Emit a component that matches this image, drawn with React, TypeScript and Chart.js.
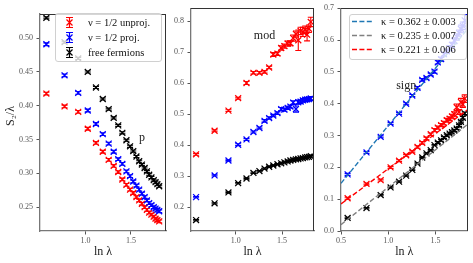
import React, { useEffect, useRef } from 'react';
import { Chart, registerables } from 'chart.js';

Chart.register(...registerables);

const W = 473;
const H = 263;
const FONT = "'Liberation Serif', 'DejaVu Serif', serif";

// ---------- data ----------
const lnLambda = [0.57, 0.77, 0.92, 1.025, 1.115, 1.19, 1.255, 1.31, 1.36, 1.405, 1.45, 1.49, 1.525, 1.56, 1.59, 1.62, 1.65, 1.675, 1.70, 1.725, 1.75, 1.77, 1.79, 1.81];

const seriesLabels = ['ν = 1/2 unproj.', 'ν = 1/2 proj.', 'free fermions'];
const seriesColors = ['#ff0000', '#0000ff', '#000000'];

// panel "p"
const pUnproj = [0.418, 0.399, 0.391, 0.366, 0.345, 0.332, 0.320, 0.311, 0.302, 0.291, 0.283, 0.276, 0.271, 0.265, 0.260, 0.255, 0.250, 0.246, 0.242, 0.239, 0.236, 0.233, 0.231, 0.229];
const pUnprojErr = [0.002, 0.002, 0.002, 0.002, 0.002, 0.002, 0.002, 0.002, 0.002, 0.002, 0.002, 0.002, 0.002, 0.002, 0.002, 0.002, 0.002, 0.002, 0.002, 0.002, 0.002, 0.002, 0.002, 0.002];
const pProj = [0.491, 0.445, 0.419, 0.393, 0.373, 0.358, 0.344, 0.332, 0.321, 0.314, 0.303, 0.296, 0.288, 0.282, 0.276, 0.270, 0.265, 0.260, 0.256, 0.253, 0.250, 0.248, 0.246, 0.244];
const pProjErr = [0.002, 0.002, 0.002, 0.002, 0.002, 0.002, 0.002, 0.002, 0.002, 0.002, 0.002, 0.002, 0.002, 0.002, 0.002, 0.002, 0.002, 0.002, 0.002, 0.002, 0.002, 0.002, 0.002, 0.002];
const pFree = [0.530, 0.494, 0.470, 0.450, 0.427, 0.410, 0.395, 0.382, 0.371, 0.360, 0.349, 0.340, 0.333, 0.325, 0.318, 0.313, 0.308, 0.303, 0.298, 0.294, 0.290, 0.287, 0.284, 0.281];
const pFreeErr = [0.0015, 0.0015, 0.0015, 0.0015, 0.0015, 0.0015, 0.0015, 0.0015, 0.0015, 0.0015, 0.0015, 0.0015, 0.0015, 0.0015, 0.0015, 0.0015, 0.0015, 0.0015, 0.0015, 0.0015, 0.0015, 0.0015, 0.0015, 0.0015];

// panel "mod"
const modUnproj = [0.370, 0.446, 0.511, 0.551, 0.600, 0.633, 0.633, 0.636, 0.650, 0.692, 0.695, 0.713, 0.719, 0.727, 0.728, 0.745, 0.758, 0.738, 0.768, 0.765, 0.772, 0.756, 0.775, 0.797];
const modUnprojErr = [0.003, 0.003, 0.003, 0.003, 0.005, 0.004, 0.004, 0.004, 0.004, 0.006, 0.006, 0.007, 0.007, 0.008, 0.008, 0.010, 0.010, 0.033, 0.012, 0.015, 0.012, 0.020, 0.012, 0.015];
const modProj = [0.232, 0.302, 0.350, 0.401, 0.418, 0.442, 0.455, 0.478, 0.487, 0.495, 0.503, 0.516, 0.514, 0.520, 0.524, 0.537, 0.516, 0.538, 0.540, 0.544, 0.546, 0.547, 0.548, 0.550];
const modProjErr = [0.002, 0.002, 0.002, 0.003, 0.003, 0.003, 0.003, 0.004, 0.004, 0.004, 0.004, 0.005, 0.005, 0.005, 0.005, 0.006, 0.010, 0.006, 0.006, 0.006, 0.006, 0.006, 0.006, 0.006];
const modFree = [0.158, 0.212, 0.247, 0.277, 0.292, 0.310, 0.316, 0.324, 0.330, 0.334, 0.338, 0.341, 0.344, 0.347, 0.350, 0.352, 0.354, 0.355, 0.357, 0.358, 0.360, 0.361, 0.362, 0.364];
const modFreeErr = [0.002, 0.002, 0.002, 0.002, 0.002, 0.002, 0.002, 0.002, 0.002, 0.002, 0.002, 0.002, 0.002, 0.002, 0.002, 0.002, 0.002, 0.002, 0.002, 0.002, 0.002, 0.002, 0.002, 0.002];

// panel "sign"
const signUnproj = [0.103, 0.148, 0.160, 0.200, 0.221, 0.238, 0.249, 0.264, 0.277, 0.291, 0.304, 0.317, 0.325, 0.333, 0.339, 0.348, 0.353, 0.360, 0.367, 0.389, 0.374, 0.405, 0.398, 0.416];
const signUnprojErr = [0.003, 0.003, 0.003, 0.003, 0.003, 0.003, 0.003, 0.004, 0.004, 0.004, 0.004, 0.005, 0.005, 0.005, 0.006, 0.006, 0.006, 0.007, 0.008, 0.010, 0.008, 0.012, 0.010, 0.012];
const signProj = [0.178, 0.247, 0.296, 0.338, 0.369, 0.400, 0.426, 0.450, 0.475, 0.481, 0.492, 0.501, 0.530, 0.540, 0.556, 0.565, 0.575, 0.585, 0.598, 0.610, 0.622, 0.635, 0.645, 0.662];
const signProjErr = [0.003, 0.003, 0.003, 0.003, 0.003, 0.003, 0.003, 0.004, 0.004, 0.004, 0.004, 0.005, 0.005, 0.006, 0.006, 0.007, 0.008, 0.008, 0.009, 0.010, 0.010, 0.012, 0.012, 0.018];
const signFree = [0.041, 0.072, 0.113, 0.137, 0.155, 0.174, 0.192, 0.212, 0.231, 0.244, 0.254, 0.270, 0.278, 0.285, 0.294, 0.301, 0.306, 0.311, 0.316, 0.322, 0.332, 0.343, 0.356, 0.370];
const signFreeErr = [0.002, 0.002, 0.002, 0.002, 0.002, 0.002, 0.002, 0.002, 0.002, 0.002, 0.002, 0.002, 0.003, 0.003, 0.003, 0.003, 0.003, 0.003, 0.003, 0.003, 0.003, 0.003, 0.004, 0.004];

// fitted lines (slope kappa) in panel "sign"
const fitLabels = ['κ = 0.362 ± 0.003', 'κ = 0.235 ± 0.007', 'κ = 0.221 ± 0.006'];
const fitColors = ['#1f77b4', '#808080', '#ff0000'];
const fitX = [0.5, 1.84];
const fitProj = [0.150, 0.635];
const fitFree = [0.020, 0.335];
const fitUnproj = [0.085, 0.381];

// ticks
const xTicksPM = [1.0, 1.5];
const xTicksSign = [0.5, 1.0, 1.5];
const yTicksP = [0.25, 0.30, 0.35, 0.40, 0.45, 0.50];
const yTicksMod = [0.2, 0.3, 0.4, 0.5, 0.6, 0.7, 0.8];
const yTicksSign = [0.0, 0.1, 0.2, 0.3, 0.4, 0.5, 0.6, 0.7];

const xTitle = 'ln λ';
const yTitle = 'S₂/λ';

const DASH = [5, 2.4];

// ---------- helpers ----------
const pts = (ys: number[]) => ys.map((y, i) => ({ x: lnLambda[i], y }));

const pointSet = (k: number, ys: number[], errs: number[]) => ({
  label: seriesLabels[k],
  data: pts(ys),
  errors: errs,
  errColor: seriesColors[k],
  borderColor: seriesColors[k],
  backgroundColor: seriesColors[k],
  pointStyle: 'crossRot',
  pointRadius: 4.2,
  borderWidth: 1.25,
  showLine: false,
  order: -k,
});

const fitSet = (k: number, ys: number[]) => ({
  label: fitLabels[k],
  data: fitX.map((x, i) => ({ x, y: ys[i] })),
  borderColor: fitColors[k],
  backgroundColor: fitColors[k],
  borderWidth: 1.4,
  borderDash: DASH,
  pointRadius: 0,
  showLine: true,
  order: -10 - k,
});

const errorBarPlugin = {
  id: 'errorBars',
  beforeDatasetsDraw(chart: any) {
    const ctx = chart.ctx;
    const ys = chart.scales.y;
    const cap = 3;
    chart.data.datasets.forEach((ds: any, i: number) => {
      if (!ds.errors) return;
      const meta = chart.getDatasetMeta(i);
      ctx.save();
      ctx.strokeStyle = ds.errColor;
      ctx.lineWidth = 1.1;
      meta.data.forEach((el: any, j: number) => {
        const v = ds.data[j].y;
        const e = ds.errors[j];
        const t = ys.getPixelForValue(v + e);
        const b = ys.getPixelForValue(v - e);
        const x = el.x;
        ctx.beginPath();
        ctx.moveTo(x, t); ctx.lineTo(x, b);
        ctx.moveTo(x - cap, t); ctx.lineTo(x + cap, t);
        ctx.moveTo(x - cap, b); ctx.lineTo(x + cap, b);
        ctx.stroke();
      });
      ctx.restore();
    });
  },
};

const framePlugin = {
  id: 'frame',
  afterDraw(chart: any) {
    const { left, right, top, bottom } = chart.chartArea;
    const ctx = chart.ctx;
    ctx.save();
    ctx.strokeStyle = '#333333';
    ctx.lineWidth = 1;
    ctx.beginPath();
    ctx.moveTo(left, Math.round(top) + 0.5);
    ctx.lineTo(right, Math.round(top) + 0.5);
    ctx.moveTo(Math.round(right) - 0.5, top);
    ctx.lineTo(Math.round(right) - 0.5, bottom);
    ctx.stroke();
    ctx.restore();
  },
};

function makeTextPlugin(note: { text: string; x: number; y: number }, ytitle?: { text: string; px: number; py: number }) {
  return {
    id: 'texts',
    afterDatasetsDraw(chart: any) {
      const ctx = chart.ctx;
      const x = chart.scales.x.getPixelForValue(note.x);
      const y = chart.scales.y.getPixelForValue(note.y);
      ctx.save();
      ctx.font = `12px ${FONT}`;
      ctx.fillStyle = '#222222';
      ctx.textAlign = 'center';
      ctx.textBaseline = 'middle';
      ctx.fillText(note.text, x, y);
      if (ytitle) {
        ctx.translate(ytitle.px, ytitle.py);
        ctx.rotate(-Math.PI / 2);
        ctx.fillText(ytitle.text, 0, 0);
      }
      ctx.restore();
    },
  };
}

function makeLegendPlugin(spec: any) {
  return {
    id: 'boxLegend',
    afterDraw(chart: any) {
      if (!spec) return;
      const ctx = chart.ctx;
      const box = spec.box;
      ctx.save();
      const r = 2.5;
      ctx.beginPath();
      ctx.moveTo(box.x + r, box.y);
      ctx.lineTo(box.x + box.w - r, box.y);
      ctx.arcTo(box.x + box.w, box.y, box.x + box.w, box.y + r, r);
      ctx.lineTo(box.x + box.w, box.y + box.h - r);
      ctx.arcTo(box.x + box.w, box.y + box.h, box.x + box.w - r, box.y + box.h, r);
      ctx.lineTo(box.x + r, box.y + box.h);
      ctx.arcTo(box.x, box.y + box.h, box.x, box.y + box.h - r, r);
      ctx.lineTo(box.x, box.y + r);
      ctx.arcTo(box.x, box.y, box.x + r, box.y, r);
      ctx.closePath();
      ctx.fillStyle = 'rgba(255,255,255,0.8)';
      ctx.fill();
      ctx.strokeStyle = '#d0d0d0';
      ctx.lineWidth = 1;
      ctx.stroke();

      ctx.font = `10.5px ${FONT}`;
      ctx.textBaseline = 'middle';
      ctx.textAlign = 'left';
      spec.rows.forEach((row: any) => {
        const ds = chart.data.datasets[row.ds];
        const cy = row.y;
        ctx.strokeStyle = row.color;
        if (spec.kind === 'errorbar') {
          const hx = spec.hx;
          ctx.lineWidth = 1.2;
          ctx.beginPath();
          ctx.moveTo(hx, cy - 5); ctx.lineTo(hx, cy + 5);
          ctx.moveTo(hx - 3.5, cy - 5); ctx.lineTo(hx + 3.5, cy - 5);
          ctx.moveTo(hx - 3.5, cy + 5); ctx.lineTo(hx + 3.5, cy + 5);
          ctx.moveTo(hx - 3, cy - 3); ctx.lineTo(hx + 3, cy + 3);
          ctx.moveTo(hx - 3, cy + 3); ctx.lineTo(hx + 3, cy - 3);
          ctx.stroke();
        } else {
          ctx.lineWidth = 1.4;
          ctx.setLineDash(DASH);
          ctx.beginPath();
          ctx.moveTo(spec.hx0, cy); ctx.lineTo(spec.hx1, cy);
          ctx.stroke();
          ctx.setLineDash([]);
        }
        ctx.fillStyle = '#111111';
        ctx.fillText(ds.label, spec.textX, cy + 0.5);
      });
      ctx.restore();
    },
  };
}

type Panel = {
  area: { left: number; top: number; right: number; bottom: number };
  xr: [number, number];
  yr: [number, number];
  xTicks: number[];
  yTicks: number[];
  dec: number;
  datasets: any[];
  yTitle?: { text: string; px: number; py: number };
  note: { text: string; x: number; y: number };
  legend?: any;
};

const panels: Panel[] = [
  {
    area: { left: 40, top: 14, right: 166, bottom: 231 },
    xr: [0.50, 1.885],
    yr: [0.2148, 0.5357],
    xTicks: xTicksPM,
    yTicks: yTicksP,
    dec: 2,
    datasets: [pointSet(0, pUnproj, pUnprojErr), pointSet(1, pProj, pProjErr), pointSet(2, pFree, pFreeErr)],
    yTitle: { text: yTitle, px: 10.5, py: 116 },
    note: { text: 'p', x: 1.62, y: 0.353 },
    legend: {
      kind: 'errorbar',
      box: { x: 55.5, y: 13.5, w: 106, h: 48 },
      rows: [
        { ds: 0, y: 22.5, color: seriesColors[0] },
        { ds: 1, y: 37.5, color: seriesColors[1] },
        { ds: 2, y: 52.5, color: seriesColors[2] },
      ],
      hx: 69.5,
      textX: 88,
    },
  },
  {
    area: { left: 191, top: 8, right: 314, bottom: 231 },
    xr: [0.515, 1.845],
    yr: [0.1227, 0.841],
    xTicks: xTicksPM,
    yTicks: yTicksMod,
    dec: 1,
    datasets: [pointSet(0, modUnproj, modUnprojErr), pointSet(1, modProj, modProjErr), pointSet(2, modFree, modFreeErr)],
    note: { text: 'mod', x: 1.31, y: 0.751 },
  },
  {
    area: { left: 341, top: 7, right: 468, bottom: 231 },
    xr: [0.5, 1.84],
    yr: [0.0, 0.7],
    xTicks: xTicksSign,
    yTicks: yTicksSign,
    dec: 1,
    datasets: [
      fitSet(0, fitProj), fitSet(1, fitFree), fitSet(2, fitUnproj),
      pointSet(0, signUnproj, signUnprojErr), pointSet(1, signProj, signProjErr), pointSet(2, signFree, signFreeErr),
    ],
    note: { text: 'sign', x: 1.19, y: 0.457 },
    legend: {
      kind: 'line',
      box: { x: 349.5, y: 14.5, w: 117, h: 45 },
      rows: [
        { ds: 0, y: 21.5, color: fitColors[0] },
        { ds: 1, y: 35.5, color: fitColors[1] },
        { ds: 2, y: 49.5, color: fitColors[2] },
      ],
      hx0: 352,
      hx1: 372,
      textX: 381,
    },
  },
];

function buildConfig(p: Panel): any {
  const tickFont = { family: FONT, size: 8 };
  return {
    type: 'scatter',
    data: { datasets: p.datasets },
    options: {
      responsive: false,
      animation: false,
      devicePixelRatio: 1,
      events: [],
      layout: { padding: { left: 0, top: p.area.top, right: W - p.area.right, bottom: 0 } },
      plugins: {
        legend: { display: false },
        tooltip: { enabled: false },
        colors: { enabled: false },
      },
      scales: {
        x: {
          type: 'linear',
          min: p.xr[0],
          max: p.xr[1],
          afterFit: (s: any) => { s.height = H - p.area.bottom; },
          afterBuildTicks: (s: any) => { s.ticks = p.xTicks.map((v) => ({ value: v })); },
          ticks: {
            autoSkip: false,
            maxRotation: 0,
            padding: 2,
            color: '#555555',
            font: tickFont,
            callback: (v: any) => Number(v).toFixed(1),
          },
          grid: { display: true, drawOnChartArea: false, drawTicks: true, tickLength: 3.5, tickColor: '#555555' },
          border: { display: true, color: '#777777', width: 1.3 },
          title: { display: true, text: xTitle, color: '#222222', font: { family: FONT, size: 12 }, padding: { top: 0, bottom: 4 } },
        },
        y: {
          type: 'linear',
          min: p.yr[0],
          max: p.yr[1],
          afterFit: (s: any) => { s.width = p.area.left; },
          afterBuildTicks: (s: any) => { s.ticks = p.yTicks.map((v) => ({ value: v })); },
          ticks: {
            autoSkip: false,
            padding: 3.5,
            color: '#555555',
            font: tickFont,
            callback: (v: any) => Number(v).toFixed(p.dec),
          },
          grid: { display: true, drawOnChartArea: false, drawTicks: true, tickLength: 3.5, tickColor: '#555555' },
          border: { display: true, color: '#777777', width: 1.3 },
          title: { display: false },
        },
      },
    },
    plugins: [errorBarPlugin, framePlugin, makeTextPlugin(p.note, p.yTitle), makeLegendPlugin(p.legend)],
  };
}

function PanelCanvas({ panel }: { panel: Panel }) {
  const ref = useRef<HTMLCanvasElement | null>(null);
  useEffect(() => {
    if (!ref.current) return;
    const chart = new Chart(ref.current, buildConfig(panel));
    return () => chart.destroy();
  }, [panel]);
  return (
    <canvas
      ref={ref}
      width={W}
      height={H}
      style={{ position: 'absolute', left: 0, top: 0, width: W, height: H }}
    />
  );
}

export default function App() {
  return (
    <div style={{ position: 'fixed', left: 0, top: 0, width: W, height: H, background: '#ffffff', overflow: 'hidden' }}>
      {panels.map((p, i) => (
        <PanelCanvas key={i} panel={p} />
      ))}
    </div>
  );
}
